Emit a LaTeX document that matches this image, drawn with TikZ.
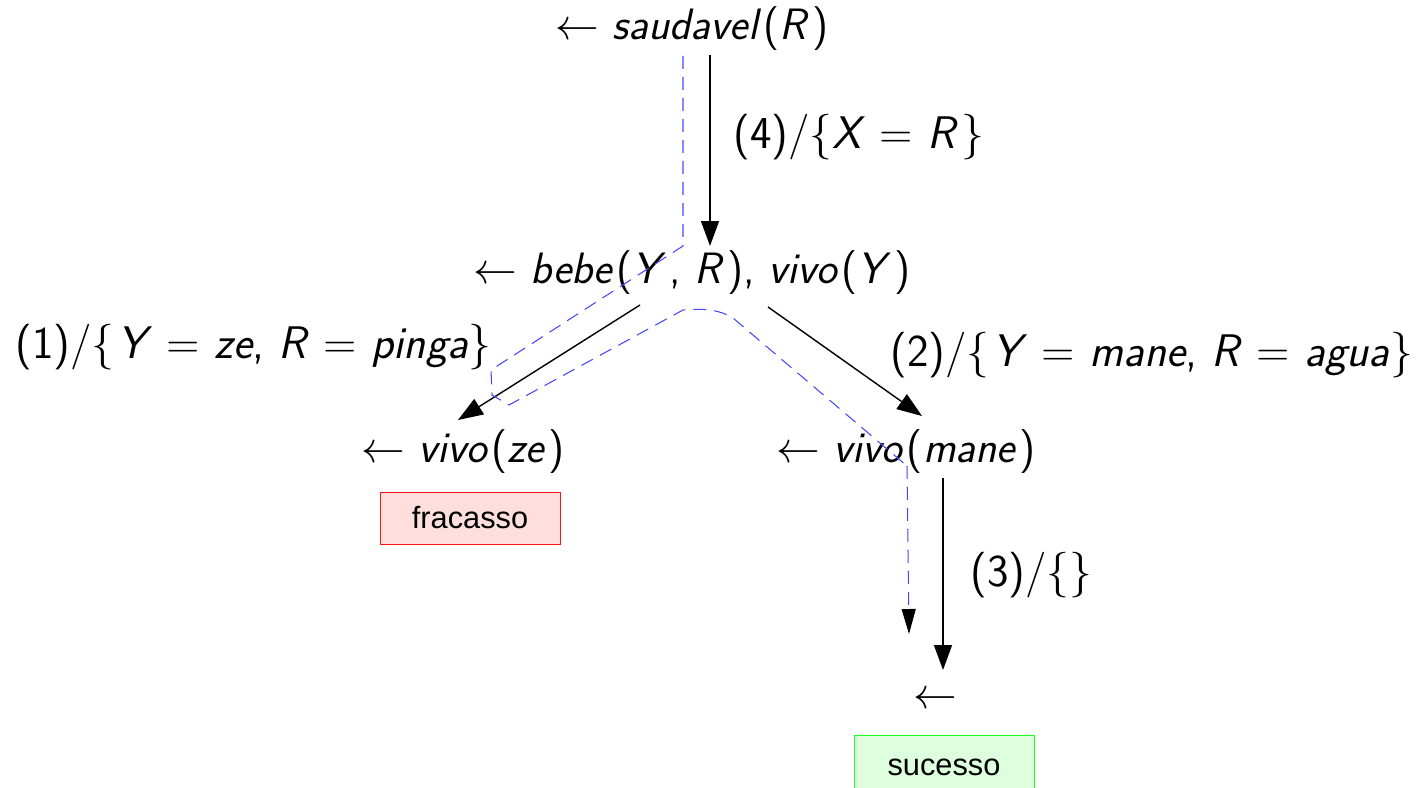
\documentclass[tikz,border=0pt]{standalone}
\usepackage{fontspec}
\newfontfamily\boxfont{Liberation Sans}
\usetikzlibrary{arrows.meta}
\definecolor{pathblue}{RGB}{70,70,250}
\definecolor{failfill}{RGB}{255,222,222}
\definecolor{failline}{RGB}{255,20,20}
\definecolor{okfill}{RGB}{222,255,222}
\definecolor{okline}{RGB}{30,255,30}
\newcommand{\ik}{\kern1.6pt}
\tikzset{
  goal/.style={inner sep=0pt, font=\fontsize{25}{30}\selectfont\sffamily},
  lab/.style={inner sep=0pt, font=\fontsize{26}{31}\selectfont\sffamily},
  arr/.style={line width=0.8pt, -{Triangle[length=0.5cm,width=0.36cm]}},
  trail/.style={pathblue, line width=0.6pt, dash pattern=on 0.26cm off 0.16cm},
  trailarr/.style={trail, -{Triangle[length=0.5cm,width=0.28cm,color=black]}},
  result/.style={inner sep=0pt, minimum width=3.6cm, font=\boxfont\fontsize{17.5}{20}\selectfont},
}
\begin{document}
\begin{tikzpicture}[x=0.02cm,y=-0.02cm]
\clip (0,0) rectangle (1425,787);
\useasboundingbox (0,0) rectangle (1425,787);
% goals
\node[goal] (saud) at (692,29) {$\leftarrow$ \textit{saudavel}\ik(\textit{R}\ik)};
\node[goal] (bebe) at (692,273) {$\leftarrow$ \textit{bebe}\ik(\textit{Y}\ik, \textit{R}\ik), \textit{vivo}\ik(\textit{Y}\ik)};
\node[goal] (vze) at (463,452) {$\leftarrow$ \textit{vivo}\ik(\textit{ze}\ik)};
\node[goal] (vmane) at (906,452) {$\leftarrow$ \textit{vivo}\ik(\textit{mane}\ik)};
\node[goal] (empty) at (935,700) {$\leftarrow$};
% result boxes
\node[result, draw=failline, fill=failfill, minimum height=1.04cm] (fail) at (470,518) {fracasso};
\node[result, draw=okline, fill=okfill, minimum height=1.3cm, anchor=north] (ok) at (944,735) {\raisebox{-0.1cm}{sucesso}};
% connector endpoints
\coordinate (s4) at (710,55);  \coordinate (e4) at (710,246);
\coordinate (s1) at (640,305); \coordinate (e1) at (458,420);
\coordinate (s2) at (768,307); \coordinate (e2) at (922,416);
\coordinate (s3) at (943,478); \coordinate (e3) at (943,670);
% derivation arrows
\draw[arr] (s4) -- (e4);
\draw[arr] (s1) -- (e1);
\draw[arr] (s2) -- (e2);
\draw[arr] (s3) -- (e3);
% labels
\node[lab, anchor=west] (l4) at (733,137) {(4)/\{\textit{X} = \textit{R}\ik\}};
\node[lab, anchor=east] (l1) at (492,347) {(1)/\{\ik\textit{Y} = \textit{ze}, \textit{R} = \textit{pinga}\}};
\node[lab, anchor=west] (l2) at (890,355) {(2)/\{\ik\textit{Y} = \textit{mane}, \textit{R} = \textit{agua}\}};
\node[lab, anchor=west] (l3) at (970,575) {(3)/\{\}};
% search trail
\coordinate (t0) at (683,56);
\coordinate (t1) at (683,246);
\coordinate (t2) at (491,370);
\coordinate (t3) at (492,395);
\coordinate (t4) at (509,405);
\coordinate (t5) at (683,310);
\coordinate (t6) at (733,318);
\coordinate (t7) at (907,466);
\coordinate (t8) at (909,634);
\draw[trail] (t0) -- (t1) -- (t2) -- (t3) -- (t4) -- (t5) .. controls (705,308) and (720,310) .. (t6) -- (t7);
\draw[trailarr] (t7) -- (t8);
\end{tikzpicture}
\end{document}
